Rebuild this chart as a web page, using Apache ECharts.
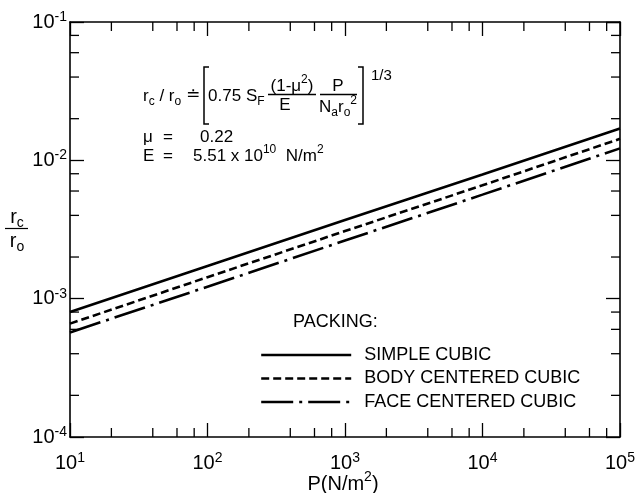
<!DOCTYPE html>
<html><head><meta charset="utf-8">
<script src="https://cdn.jsdelivr.net/npm/echarts@6/dist/echarts.min.js"></script>
<style>html,body{margin:0;padding:0;background:#fff}#c{width:638px;height:493px}</style>
</head><body><div id="c"></div>
<script>
// ---- data ----
const pressures = [10, 100, 1000, 10000, 100000];
const simpleCubic = [8.0e-4, 1.72e-3, 3.7e-3, 7.9e-3, 1.70e-2];
const bodyCentered = [6.6e-4, 1.43e-3, 3.08e-3, 6.6e-3, 1.43e-2];
const faceCentered = [5.7e-4, 1.22e-3, 2.63e-3, 5.65e-3, 1.22e-2];
const seriesNames = ['SIMPLE CUBIC', 'BODY CENTERED CUBIC', 'FACE CENTERED CUBIC'];
const xRange = [10, 1e5];
const yRange = [1e-4, 1e-1];
const xMinorTicks = [20, 40, 60, 80, 200, 400, 600, 800, 2000, 4000, 6000, 8000, 20000, 40000, 60000, 80000];
const yMinorTicks = [2e-4, 4e-4, 6e-4, 8e-4, 2e-3, 4e-3, 6e-3, 8e-3, 2e-2, 4e-2, 6e-2, 8e-2];

const FONT = "'Liberation Sans', Arial, sans-serif";
const INK = '#000';

function powLabel(v) {
  const e = Math.round(Math.log10(v));
  return '{b|10}{s|' + e + '}';
}
const labelRich = {
  b: { fontSize: 20, fontFamily: FONT, color: INK, lineHeight: 24 },
  s: { fontSize: 14, fontFamily: FONT, color: INK, lineHeight: 12, verticalAlign: 'top' }
};
const axisLine = { show: true, lineStyle: { color: INK, width: 1.6 } };
const axisTick = { show: true, inside: true, length: 14, lineStyle: { color: INK, width: 1.3 } };

function mk(xs, ys) { return xs.map((x, i) => [x, ys[i]]); }

function richFor(size, small) {
  return {
    m: { fontSize: size, fontFamily: FONT, color: INK, lineHeight: size + 7 },
    sub: { fontSize: small, fontFamily: FONT, color: INK, lineHeight: small, verticalAlign: 'bottom' },
    sup: { fontSize: small, fontFamily: FONT, color: INK, lineHeight: small, verticalAlign: 'top' }
  };
}
function txt(text, x, y, opts) {
  opts = opts || {};
  const size = opts.size || 17;
  return {
    type: 'text', silent: true, z: 50,
    style: {
      text: text, x: x, y: y, fill: INK,
      font: size + 'px ' + (opts.family || FONT),
      align: opts.align || 'left', verticalAlign: 'middle',
      rich: richFor(size, opts.small || 12)
    }
  };
}
function seg(x1, y1, x2, y2, w) {
  return { type: 'line', silent: true, z: 50, shape: { x1, y1, x2, y2 }, style: { stroke: INK, lineWidth: w || 1.3 } };
}
function poly(points) {
  return { type: 'polyline', silent: true, z: 50, shape: { points }, style: { stroke: INK, lineWidth: 1.5, fill: null } };
}

const chart = echarts.init(document.getElementById('c'), null, { renderer: 'canvas' });
chart.setOption({
  backgroundColor: '#fff',
  animation: false,
  grid: { left: 70, right: 18, top: 22, bottom: 56, containLabel: false },
  xAxis: [
    { type: 'log', logBase: 10, min: xRange[0], max: xRange[1], position: 'bottom',
      axisLine, axisTick, splitLine: { show: false },
      axisLabel: { formatter: powLabel, rich: labelRich, margin: 14, color: INK } },
    { type: 'log', logBase: 10, min: xRange[0], max: xRange[1], position: 'top',
      axisLine, axisTick, splitLine: { show: false }, axisLabel: { show: false } }
  ],
  yAxis: [
    { type: 'log', logBase: 10, min: yRange[0], max: yRange[1], position: 'left',
      axisLine, axisTick, splitLine: { show: false },
      axisLabel: { formatter: powLabel, rich: labelRich, margin: 3, color: INK } },
    { type: 'log', logBase: 10, min: yRange[0], max: yRange[1], position: 'right',
      axisLine, axisTick, splitLine: { show: false }, axisLabel: { show: false } }
  ],
  legend: {
    data: seriesNames, orient: 'vertical', left: 255, top: 341,
    itemWidth: 90, itemHeight: 14, itemGap: 5.5, selectedMode: false,
    itemStyle: { opacity: 0 },
    lineStyle: { width: 2.4 },
    textStyle: { fontFamily: FONT, fontSize: 18, color: INK, lineHeight: 18, padding: [0, 0, 0, 8] }
  },
  series: [
    { name: seriesNames[0], type: 'line', data: mk(pressures, simpleCubic), symbol: 'none',
      lineStyle: { color: INK, width: 2.6, type: 'solid' }, itemStyle: { color: INK } },
    { name: seriesNames[1], type: 'line', data: mk(pressures, bodyCentered), symbol: 'none',
      lineStyle: { color: INK, width: 2.6, type: [8, 4] }, itemStyle: { color: INK } },
    { name: seriesNames[2], type: 'line', data: mk(pressures, faceCentered), symbol: 'none',
      lineStyle: { color: INK, width: 2.6, type: [32, 6, 3, 6] }, itemStyle: { color: INK } },
    { type: 'custom', silent: true, xAxisIndex: 0, yAxisIndex: 0,
      data: xMinorTicks.map(v => [v, yRange[0]]), encode: { x: 0, y: 1 },
      renderItem: function (params, api) {
        const v = api.value(0);
        const b = api.coord([v, yRange[0]]);
        const t = api.coord([v, yRange[1]]);
        return { type: 'group', children: [
          { type: 'line', shape: { x1: b[0], y1: b[1], x2: b[0], y2: b[1] - 9 }, style: { stroke: INK, lineWidth: 1.3 } },
          { type: 'line', shape: { x1: t[0], y1: t[1], x2: t[0], y2: t[1] + 9 }, style: { stroke: INK, lineWidth: 1.3 } }
        ] };
      } },
    { type: 'custom', silent: true, xAxisIndex: 0, yAxisIndex: 0,
      data: yMinorTicks.map(v => [xRange[0], v]), encode: { x: 0, y: 1 },
      renderItem: function (params, api) {
        const v = api.value(1);
        const l = api.coord([xRange[0], v]);
        const r = api.coord([xRange[1], v]);
        return { type: 'group', children: [
          { type: 'line', shape: { x1: l[0], y1: l[1], x2: l[0] + 9, y2: l[1] }, style: { stroke: INK, lineWidth: 1.3 } },
          { type: 'line', shape: { x1: r[0], y1: r[1], x2: r[0] - 9, y2: r[1] }, style: { stroke: INK, lineWidth: 1.3 } }
        ] };
      } }
  ],
  graphic: [
    // formula
    txt('{m|r}{sub|c}{m| / r}{sub|o}', 143, 96),
    txt('≐', 186, 96, { family: "'DejaVu Sans', sans-serif" }),
    poly([[209, 67], [204, 67], [204, 124], [209, 124]]),
    txt('0.75', 208, 96),
    txt('{m|S}{sub|F}', 246, 96),
    txt('{m|(1-μ}{sup|2}{m|)}', 292, 86, { align: 'center' }),
    seg(268, 94.5, 316, 94.5),
    txt('E', 285, 105, { align: 'center' }),
    txt('P', 338, 86, { align: 'center' }),
    seg(320, 94.5, 357, 94.5),
    txt('{m|N}{sub|a}{m|r}{sub|o}{sup|2}', 338, 107, { align: 'center' }),
    poly([[358, 67], [363, 67], [363, 124], [358, 124]]),
    txt('1/3', 371, 76, { size: 15 }),
    txt('μ', 143, 137),
    txt('=', 163, 137),
    txt('0.22', 200, 137),
    txt('E', 143, 156),
    txt('=', 163, 156),
    txt('{m|5.51 x 10}{sup|10}{m|  N/m}{sup|2}', 193, 156),
    // legend heading
    txt('PACKING:', 293, 322, { size: 18 }),
    // axis names
    txt('{m|r}{sub|c}', 17, 217, { align: 'center', size: 20, small: 14 }),
    seg(5, 228.5, 28, 228.5, 1.2),
    txt('{m|r}{sub|o}', 17, 241, { align: 'center', size: 20, small: 14 }),
    txt('{m|P(N/m}{sup|2}{m|)}', 343, 484, { align: 'center', size: 20, small: 14 })
  ]
});
</script>
</body></html>
